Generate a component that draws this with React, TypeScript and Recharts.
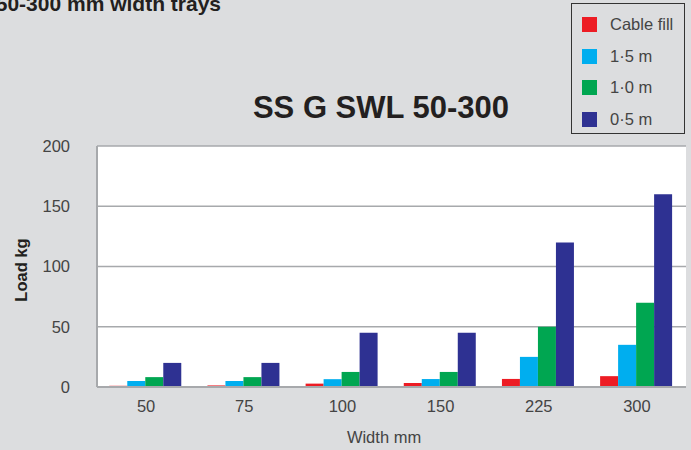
import React from "react";
import { BarChart, Bar, XAxis, YAxis, CartesianGrid } from "recharts";

const widths = ["50", "75", "100", "150", "225", "300"];
const cableFill = [1, 1.3, 2.8, 3.3, 6.7, 9];
const span15 = [5, 5, 6.5, 6.6, 25, 35];
const span10 = [8.2, 8.2, 12.5, 12.5, 50, 70];
const span05 = [20, 20, 45, 45, 120, 160];
const yTicks = [0, 50, 100, 150, 200];

const seriesNames = ["Cable fill", "1·5 m", "1·0 m", "0·5 m"];
const seriesColors = ["#ed1c24", "#00aeef", "#00a651", "#2e3192"];

const data = widths.map((w, i) => ({
  width: w,
  s0: cableFill[i],
  s1: span15[i],
  s2: span10[i],
  s3: span05[i],
}));

const FONT = "'Liberation Sans', Arial, Helvetica, sans-serif";

function LegendBox() {
  return (
    <div
      style={{
        position: "absolute",
        left: 571,
        top: 3,
        width: 114,
        height: 131,
        border: "1.5px solid #333",
        boxSizing: "border-box",
        background: "#dcdddf",
        paddingTop: 5,
        fontFamily: FONT,
      }}
    >
      {seriesNames.map((n, i) => (
        <div
          key={i}
          style={{ display: "flex", alignItems: "center", height: 31.5 }}
        >
          <div
            style={{
              width: 15,
              height: 15,
              background: seriesColors[i],
              marginLeft: 10,
              marginRight: 13,
            }}
          />
          <span style={{ fontSize: 16.5, color: "#444" }}>{n}</span>
        </div>
      ))}
    </div>
  );
}

export default function App() {
  return (
    <div
      style={{
        position: "absolute",
        left: 0,
        top: 0,
        width: 691,
        height: 450,
        background: "#dcdddf",
        overflow: "hidden",
        fontFamily: FONT,
      }}
    >
      <BarChart
        width={691}
        height={450}
        data={data}
        margin={{ top: 146, right: 5, bottom: 23, left: 37 }}
        barCategoryGap="12.5%"
        barGap={0}
      >
        <CartesianGrid
          vertical={false}
          fill="#ffffff"
          stroke="#a7a9ac"
          strokeWidth={1.5}
        />
        <XAxis
          dataKey="width"
          height={40}
          tickLine={false}
          tickSize={0}
          tickMargin={13}
          axisLine={{ stroke: "#a7a9ac", strokeWidth: 2 }}
          tick={{ fill: "#444", fontSize: 16.5, fontFamily: FONT }}
        />
        <YAxis
          width={60}
          domain={[0, 200]}
          ticks={yTicks}
          tickLine={false}
          tickSize={0}
          tickMargin={27}
          axisLine={{ stroke: "#a7a9ac", strokeWidth: 2 }}
          tick={{ fill: "#444", fontSize: 16.5, fontFamily: FONT }}
        />
        {["s0", "s1", "s2", "s3"].map((k, i) => (
          <Bar
            key={k}
            dataKey={k}
            name={seriesNames[i]}
            fill={seriesColors[i]}
            isAnimationActive={false}
          />
        ))}
      </BarChart>
      <LegendBox />
      <svg
        width={691}
        height={450}
        style={{ position: "absolute", left: 0, top: 0, pointerEvents: "none" }}
      >
        <text
          x={221}
          y={11}
          textAnchor="end"
          fontFamily={FONT}
          fontWeight="bold"
          fontSize={21}
          fill="#231f20"
        >
          50-300 mm width trays
        </text>
        <text
          x={381}
          y={118}
          textAnchor="middle"
          fontFamily={FONT}
          fontWeight="bold"
          fontSize={31}
          fill="#231f20"
        >
          SS G SWL 50-300
        </text>
        <text
          x={384}
          y={443}
          textAnchor="middle"
          fontFamily={FONT}
          fontSize={16.5}
          fill="#444"
        >
          Width mm
        </text>
        <text
          x={0}
          y={0}
          transform="translate(27,270) rotate(-90)"
          textAnchor="middle"
          fontFamily={FONT}
          fontWeight="bold"
          fontSize={16.5}
          fill="#231f20"
        >
          Load kg
        </text>
      </svg>
    </div>
  );
}
